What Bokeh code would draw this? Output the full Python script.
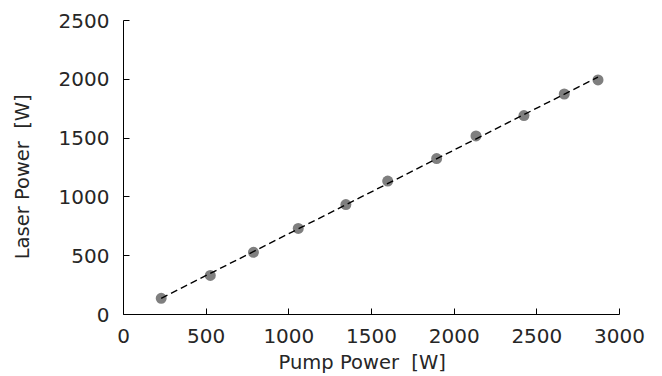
import numpy as np
from bokeh.plotting import figure
from bokeh.models import Range1d, FixedTicker
from bokeh.embed import file_html
from bokeh.resources import INLINE

pump_power = [228, 525, 786, 1057, 1345, 1598, 1894, 2132, 2422, 2666, 2870]
laser_power = [138, 332, 529, 732, 935, 1135, 1326, 1518, 1692, 1875, 1995]
x_ticks = [0, 500, 1000, 1500, 2000, 2500, 3000]
y_ticks = [0, 500, 1000, 1500, 2000, 2500]
x_title = "Pump Power\u00a0\u00a0[W]\u00a0\u00a0\u00a0"
y_title = "Laser Power\u00a0\u00a0[W]\u00a0\u00a0\u00a0"

FONT = "DejaVu Sans"
TXT = "#262626"

p = figure(width=662, height=376, output_backend="svg", toolbar_location=None,
           x_range=Range1d(0, 3000), y_range=Range1d(0, 2500),
           min_border_left=123, min_border_right=43, min_border_top=20, min_border_bottom=62)
p.outline_line_color = None
p.xgrid.visible = False
p.ygrid.visible = False

# linear fit of the data
k, b = np.polyfit(pump_power, laser_power, 1)
fx = [pump_power[0], pump_power[-1]]
fy = [k * v + b for v in fx]

p.scatter(pump_power, laser_power, size=11, fill_color="#7f7f7f", line_color=None)
p.line(fx, fy, line_color="black", line_width=1.4, line_dash="7 4")

for ax, ticks in ((p.xaxis, x_ticks), (p.yaxis, y_ticks)):
    ax.ticker = FixedTicker(ticks=ticks)
    ax.minor_tick_line_color = None
    ax.major_tick_in = 6
    ax.major_tick_out = 0
    ax.axis_line_color = "black"
    ax.major_tick_line_color = "black"
    ax.major_label_text_font = FONT
    ax.major_label_text_font_size = "20px"
    ax.major_label_text_color = TXT
    ax.axis_label_text_font = FONT
    ax.axis_label_text_font_size = "19.5px"
    ax.axis_label_text_font_style = "normal"
    ax.axis_label_text_color = TXT
    ax.axis_label_text_line_height = 0.8

p.xaxis.axis_label = x_title
p.yaxis.axis_label = y_title
p.xaxis.major_label_standoff = 14
p.yaxis.major_label_standoff = 14
p.xaxis.axis_label_standoff = 5
p.yaxis.axis_label_standoff = 22

open("out.html", "w").write(file_html(p, INLINE))
